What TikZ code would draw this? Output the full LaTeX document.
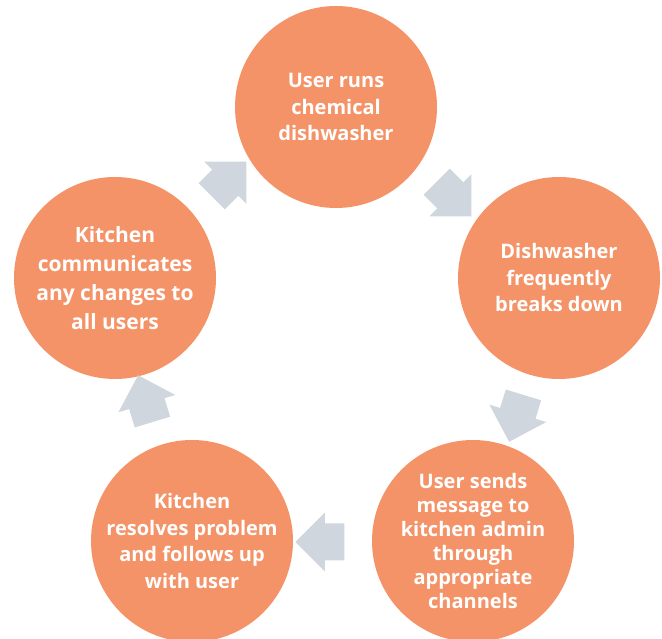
\documentclass[tikz,border=0pt]{standalone}
\usepackage{fontspec}
\setmainfont{Open Sans}
\usepackage{xcolor}
\usetikzlibrary{shapes.arrows}
\definecolor{stagefill}{RGB}{245,147,104}
\definecolor{flowgray}{RGB}{207,214,221}

\begin{document}
\begin{tikzpicture}[
  x=1pt,y=1pt,
  stage/.style={circle,fill=stagefill,text=white,minimum size=202pt,inner sep=0pt,
    align=center,font=\bfseries\fontsize{20}{26.5}\selectfont},
  flow/.style={single arrow,fill=flowgray,draw=none,inner xsep=0pt,inner ysep=18.3pt,
    minimum height=49pt,single arrow head extend=11.2pt,single arrow tip angle=90},
]
\useasboundingbox (0,0) rectangle (662,638);

\node [stage] (run) at (336,531) {User runs\\chemical\\dishwasher};
\node [stage] (breaks) at (559,360) {Dishwasher\\frequently\\breaks down};
\node [stage,font=\bfseries\fontsize{20}{24}\selectfont] (message) at (473,97)
  {User sends\\message to\\kitchen admin\\through\\appropriate\\channels};
\node [stage] (resolve) at (192,97) {Kitchen\\resolves problem\\and follows up\\with user};
\node [stage,font=\bfseries\fontsize{21}{29}\selectfont] (inform) at (115,360)
  {Kitchen\\communicates\\any changes to\\all users};

% arrows between the stages
\path (run) -- node [flow,xshift=0pt,rotate=-45] (f1) {} (breaks);
\path (breaks) -- node [flow,xshift=3pt,rotate=-107] (f2) {} (message);
\path (message) -- node [flow,xshift=-3.5pt,yshift=-1pt,rotate=180] (f3) {} (resolve);
\path (resolve) -- node [flow,xshift=-5.5pt,yshift=2pt,rotate=107] (f4) {} (inform);
\path (inform) -- node [flow,xshift=-3pt,yshift=7pt,rotate=45] (f5) {} (run);
\end{tikzpicture}
\end{document}
